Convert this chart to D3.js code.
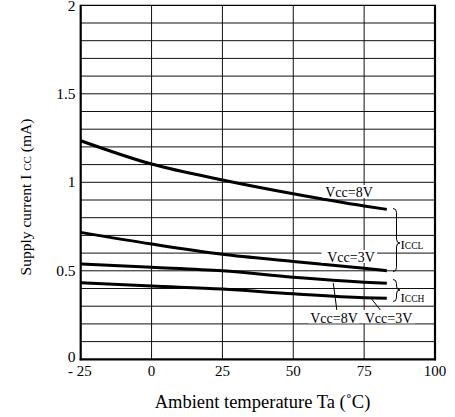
<!DOCTYPE html>
<html><head><meta charset="utf-8">
<script src="https://cdn.jsdelivr.net/npm/d3@7"></script>
<style>body{margin:0;background:#fff}svg{display:block}text{font-family:"Liberation Serif","Times New Roman",serif;fill:#000}</style>
</head><body>
<svg id="c" width="455" height="417"></svg>
<script>
const temps = [-25, 0, 25, 50, 75, 83];
const icclVcc8 = [1.235, 1.103, 1.013, 0.935, 0.866, 0.847];
const icclVcc3 = [0.717, 0.651, 0.593, 0.553, 0.514, 0.500];
const icchVcc8 = [0.538, 0.520, 0.500, 0.463, 0.435, 0.429];
const icchVcc3 = [0.433, 0.414, 0.397, 0.370, 0.348, 0.345];
const xTicks = [-25, 0, 25, 50, 75, 100];
const xTickLabels = ["- 25", "0", "25", "50", "75", "100"];
const yTicks = [0, 0.5, 1, 1.5, 2];
const yTickLabels = ["0", "0.5", "1", "1.5", "2"];

const svg = d3.select("#c");
const x = d3.scaleLinear().domain([-25, 100]).range([80.7, 435]);
const y = d3.scaleLinear().domain([0, 2]).range([359.3, 5.3]);

const g = svg.append("g");
// grid
d3.range(1, 20).forEach(i => {
  const v = i / 10;
  g.append("line").attr("x1", x(-25)).attr("x2", x(100)).attr("y1", y(v)).attr("y2", y(v))
    .attr("stroke", "#111").attr("stroke-width", 1);
});
[0, 25, 50, 75].forEach(t => {
  g.append("line").attr("x1", x(t)).attr("x2", x(t)).attr("y1", y(0)).attr("y2", y(2))
    .attr("stroke", "#111").attr("stroke-width", 1);
});
// frame
g.append("line").attr("x1", x(-25)).attr("x2", x(100)).attr("y1", y(2)).attr("y2", y(2)).attr("stroke", "#000").attr("stroke-width", 1.2);
g.append("line").attr("x1", x(-25)).attr("x2", x(-25)).attr("y1", y(2) - 0.5).attr("y2", y(0) + 1).attr("stroke", "#000").attr("stroke-width", 2.2);
g.append("line").attr("x1", x(100)).attr("x2", x(100)).attr("y1", y(2) - 0.5).attr("y2", y(0) + 1).attr("stroke", "#000").attr("stroke-width", 2.2);
g.append("line").attr("x1", x(-25) - 1).attr("x2", x(100) + 1).attr("y1", y(0)).attr("y2", y(0)).attr("stroke", "#000").attr("stroke-width", 2.2);

// curves
const line = d3.line().x((d, i) => x(temps[i])).y(d => y(d)).curve(d3.curveMonotoneX);
[icclVcc8, icclVcc3, icchVcc8, icchVcc3].forEach(s => {
  g.append("path").attr("d", line(s)).attr("fill", "none").attr("stroke", "#000").attr("stroke-width", 3);
});

// leader lines
g.append("line").attr("x1", 333.3).attr("y1", y(0.436) + 1).attr("x2", 337).attr("y2", 311.5).attr("stroke", "#000").attr("stroke-width", 1);
g.append("line").attr("x1", 371.5).attr("y1", y(0.347) + 1).attr("x2", 381.5).attr("y2", 311.5).attr("stroke", "#000").attr("stroke-width", 1);

function boxedRaw(txt, cx, base, fs, x0, x1, y0, y1) {
  g.append("rect").attr("x", x0).attr("y", y0).attr("width", x1 - x0).attr("height", y1 - y0).attr("fill", "#fff");
  g.append("text").attr("x", cx).attr("y", base).attr("text-anchor", "middle").attr("font-size", fs).text(txt);
}
boxedRaw("Vcc=8V", 349, 196.5, 14, 323, 377, 185, 198);
boxedRaw("Vcc=3V", 351, 261.5, 14, 321.5, 377, 250, 263);
boxedRaw("Vcc=8V", 334, 323, 14, 308.5, 359.5, 310, 323.3);
boxedRaw("Vcc=3V", 388.5, 323, 14, 362.5, 415, 310, 323.3);

// braces
function brace(xp, yTop, yBot, yMid, w) {
  const h = w / 2, r = 4;
  const p = `M${xp},${yTop} Q${xp + h},${yTop} ${xp + h},${yTop + r} L${xp + h},${yMid - r} Q${xp + h},${yMid} ${xp + w},${yMid} Q${xp + h},${yMid} ${xp + h},${yMid + r} L${xp + h},${yBot - r} Q${xp + h},${yBot} ${xp},${yBot}`;
  g.append("path").attr("d", p).attr("fill", "none").attr("stroke", "#000").attr("stroke-width", 1);
}
brace(393, 208.5, 271.5, 243, 7);
brace(393, 279.5, 301.5, 290, 7);

function iLabel(px, base, sub) {
  const t = g.append("text").attr("x", px).attr("y", base).attr("font-size", 13);
  t.append("tspan").text("I");
  t.append("tspan").attr("font-size", 9.5).text(sub);
}
iLabel(400.5, 248.5, "CCL");
iLabel(400.5, 301.5, "CCH");

// tick labels
yTicks.forEach((v, i) => {
  const by = v === 0 ? y(v) + 3 : (v === 2 ? y(v) + 6 : y(v) + 5);
  g.append("text").attr("x", 75.5).attr("y", by).attr("text-anchor", "end").attr("font-size", 15.5).text(yTickLabels[i]);
});
xTicks.forEach((v, i) => {
  const t = g.append("text").attr("y", 375.5).attr("font-size", 15).text(xTickLabels[i]);
  if (i === 0) t.attr("x", x(v) + 11).attr("text-anchor", "end");
  else t.attr("x", x(v)).attr("text-anchor", "middle");
});

// axis titles
g.append("text").attr("x", 262.5).attr("y", 408).attr("text-anchor", "middle").attr("font-size", 18.5).text("Ambient temperature Ta (˚C)");
const yt = g.append("text").attr("transform", "translate(31,197) rotate(-90)").attr("text-anchor", "middle").attr("font-size", 15.5);
yt.append("tspan").text("Supply current I ");
yt.append("tspan").attr("font-size", 11).text("CC");
yt.append("tspan").text(" (mA)");
</script>
</body></html>
